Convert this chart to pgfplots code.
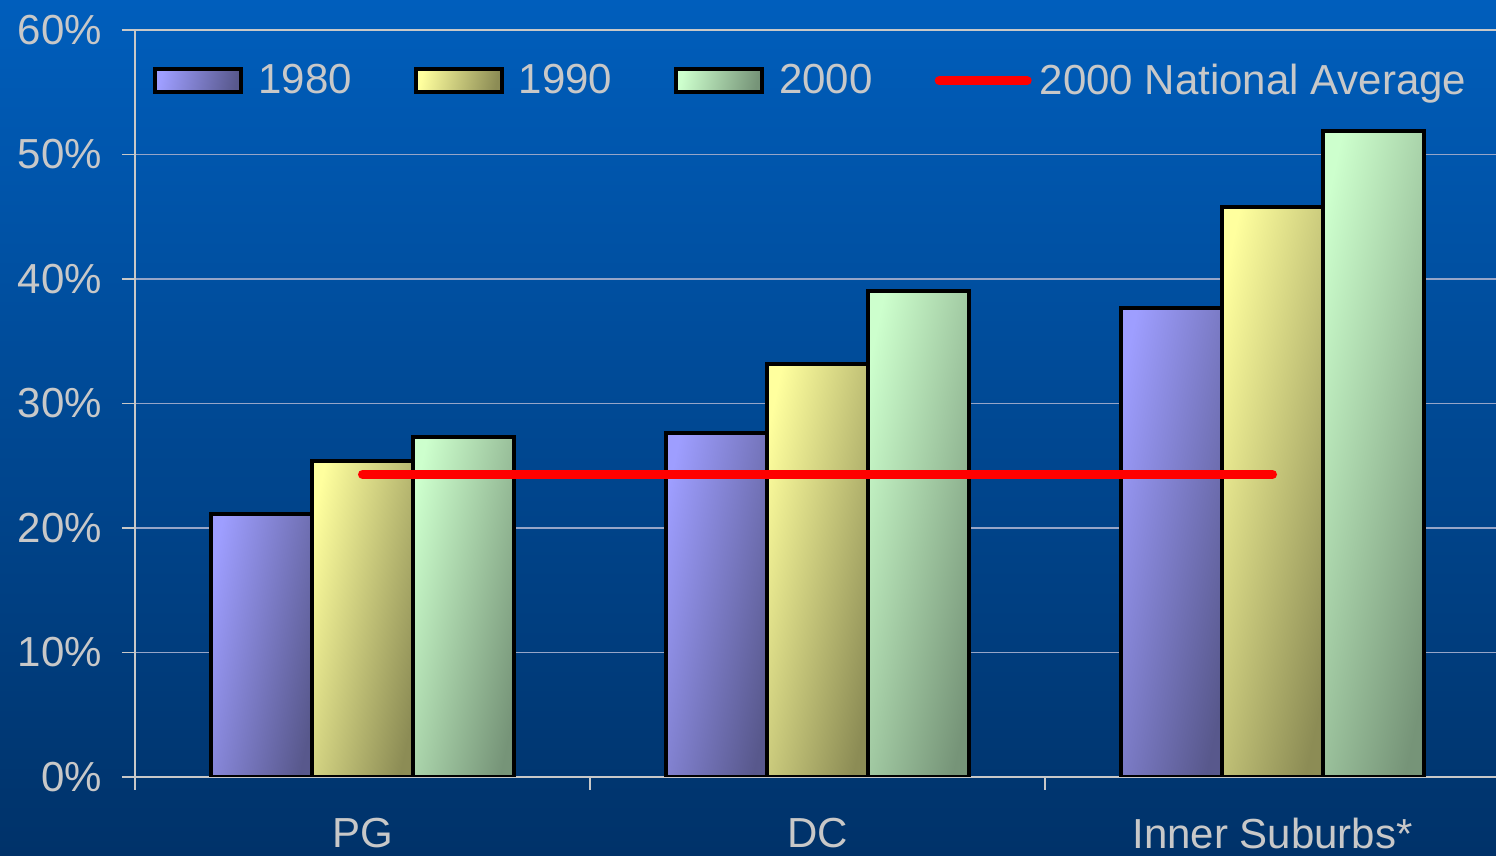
\documentclass[border=0pt]{standalone}
\usepackage{pgfplots}
\pgfplotsset{compat=1.18}
\usepackage{fontspec}
\setmainfont{Liberation Sans}

\definecolor{bgtop}{RGB}{0,94,188}
\definecolor{bgbot}{RGB}{0,50,105}
\definecolor{txt}{RGB}{200,200,200}
\definecolor{gridc}{RGB}{150,165,200}
\definecolor{aL}{RGB}{158,158,255}\definecolor{aD}{RGB}{88,88,140}
\definecolor{bL}{RGB}{255,255,158}\definecolor{bD}{RGB}{140,140,85}
\definecolor{cL}{RGB}{205,255,205}\definecolor{cD}{RGB}{118,148,120}

\pgfplotsset{
  barkey/.style={legend image code/.code={
    \draw[##1, draw=black, line width=2pt] (0pt,-5.75pt) rectangle (43pt,5.75pt);}},
  lineimg/.style={legend image code/.code={
    \path (0pt,0pt) -- (40.5pt,0pt);
    \draw[##1, overlay] (2.25pt,0pt) -- (44pt,0pt);}},
}

% one shaded bar: shift, light colour, dark colour, coordinate
\newcommand{\onebar}[4]{%
  \addplot[ybar, bar shift=#1, draw=black, line width=2pt,
    left color=#2, right color=#3, shading angle=78, forget plot]
    coordinates {#4};}

\begin{document}
\begin{tikzpicture}
\useasboundingbox (0,0) rectangle (748pt,428pt);
\clip (0,0) rectangle (748pt,428pt);
\shade[top color=bgtop, bottom color=bgbot] (0,0) rectangle (748pt,428pt);
\begin{axis}[
  at={(67.5pt,39.5pt)}, anchor=south west,
  scale only axis, width=682.5pt, height=373.5pt,
  xmin=-0.5, xmax=2.5, ymin=0, ymax=60,
  font=\fontsize{21}{25}\selectfont,
  axis line style={draw=txt, line width=1.3pt},
  tick pos=left,
  tick align=outside, major tick length=6.5pt,
  tick style={draw=txt, line width=0.7pt},
  tick label style={text=txt, font=\fontsize{21}{25}\selectfont},
  ytick={0,10,20,30,40,50,60},
  yticklabels={0\%,10\%,20\%,30\%,40\%,50\%,60\%},
  yticklabel style={xshift=-6.5pt},
  xtick={-0.5,0.5,1.5,2.5}, xticklabels={},
  extra x ticks={0,1,2},
  extra x tick labels={PG,DC,Inner Suburbs*},
  extra x tick style={major tick length=0pt, grid=none,
    tick label style={yshift=-17pt}},
  ymajorgrids, xmajorgrids=false,
  major grid style={draw=gridc, line width=0.6pt},
  bar width=0.222,
  legend columns=4,
  legend cell align=left,
  legend style={draw=none, fill=none, at={(0.0132,0.932)}, anchor=west,
    inner sep=0pt, text=txt, font=\fontsize{21}{25}\selectfont,
    nodes={inner sep=0pt},
    /tikz/every odd column/.append style={column sep=7.5pt},
    /tikz/every even column/.append style={column sep=31pt}},
]
\addlegendimage{barkey, left color=aL, right color=aD, shading angle=78}
\addlegendentry{1980}
\addlegendimage{barkey, left color=bL, right color=bD, shading angle=78}
\addlegendentry{1990}
\addlegendimage{barkey, left color=cL, right color=cD, shading angle=78}
\addlegendentry{2000}

% 1980
\onebar{-0.222}{aL}{aD}{(0,21.1)}
\onebar{-0.222}{aL}{aD}{(1,27.6)}
\onebar{-0.222}{aL}{aD}{(2,37.7)}
% 1990
\onebar{0}{bL}{bD}{(0,25.4)}
\onebar{0}{bL}{bD}{(1,33.2)}
\onebar{0}{bL}{bD}{(2,45.8)}
% 2000
\onebar{0.222}{cL}{cD}{(0,27.3)}
\onebar{0.222}{cL}{cD}{(1,39.0)}
\onebar{0.222}{cL}{cD}{(2,51.9)}

\addplot[sharp plot, draw=red, line width=4.5pt, line cap=round, lineimg]
  coordinates {(0,24.3) (2,24.3)};
\addlegendentry{2000 National Average}
\end{axis}
\end{tikzpicture}
\end{document}
